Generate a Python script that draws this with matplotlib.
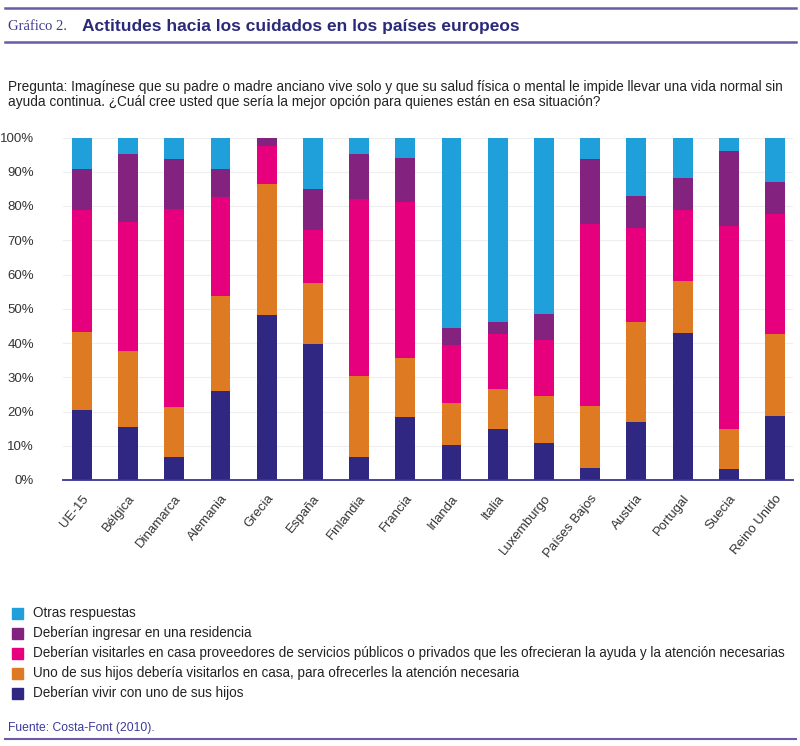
import matplotlib
matplotlib.use('Agg')
import matplotlib.pyplot as plt
import numpy as np
from matplotlib.patches import Rectangle
from matplotlib.lines import Line2D

# paises y valores (porcentaje de cada respuesta, de abajo hacia arriba)
paises = ['UE-15', 'Bélgica', 'Dinamarca', 'Alemania', 'Grecia', 'España', 'Finlandia',
          'Francia', 'Irlanda', 'Italia', 'Luxemburgo', 'Países Bajos', 'Austria',
          'Portugal', 'Suecia', 'Reino Unido']

vivir_hijos = [20.4, 15.6, 6.6, 26.0, 48.3, 39.7, 6.8, 18.4, 10.3, 14.8, 10.7, 3.4, 16.9, 43.0, 3.3, 18.8]
hijo_visita = [22.9, 22.0, 14.8, 27.8, 38.1, 17.7, 23.7, 17.3, 12.1, 11.9, 13.9, 18.2, 29.1, 15.1, 11.6, 23.8]
proveedores = [35.6, 37.8, 57.6, 28.7, 11.1, 15.6, 51.5, 45.5, 17.1, 15.8, 16.3, 53.1, 27.6, 20.7, 59.3, 35.0]
residencia = [12.0, 19.7, 14.7, 8.4, 2.5, 11.9, 13.1, 12.9, 5.0, 3.7, 7.6, 19.0, 9.3, 9.4, 21.9, 9.3]
otras = [9.1, 4.9, 6.3, 9.1, 0.0, 15.1, 4.9, 5.9, 55.5, 53.8, 51.5, 6.3, 17.1, 11.8, 3.9, 13.1]

legend_labels = [
    'Otras respuestas',
    'Deberían ingresar en una residencia',
    'Deberían visitarles en casa proveedores de servicios públicos o privados que les ofrecieran la ayuda y la atención necesarias',
    'Uno de sus hijos debería visitarlos en casa, para ofrecerles la atención necesaria',
    'Deberían vivir con uno de sus hijos',
]

c_vivir = '#302782'
c_visita = '#de7a22'
c_prov = '#e6007e'
c_resid = '#84237f'
c_otras = '#1fa0da'
c_linea = '#6a5aa8'
c_titulo = '#2b2a7a'

sans = ['Liberation Sans', 'DejaVu Sans']

fig = plt.figure(figsize=(8, 7.46), dpi=100)
W, H = 800, 746

ax = fig.add_axes([63 / W, 1 - 480 / H, (793 - 63) / W, (480 - 137.5) / H])

x = np.arange(len(paises))
series = [vivir_hijos, hijo_visita, proveedores, residencia, otras]
colores = [c_vivir, c_visita, c_prov, c_resid, c_otras]
bottom = np.zeros(len(paises))
for vals, col in zip(series, colores):
    ax.bar(x, vals, bottom=bottom, width=0.43, color=col, linewidth=0, zorder=2)
    bottom += np.array(vals)

ax.set_xlim(-0.41, 15.39)
ax.set_ylim(0, 100)
ax.set_yticks(range(0, 101, 10))
ax.set_yticklabels([f'{v}%' for v in range(0, 101, 10)], family=sans, fontsize=9.5, color='#333333')
ax.set_xticks(x)
ax.set_xticklabels(paises, rotation=51, ha='right', rotation_mode='anchor',
                   family=sans, fontsize=9.5, color='#333333')
ax.tick_params(axis='y', length=0, pad=21)
ax.tick_params(axis='x', length=0, pad=9)
ax.grid(axis='y', color='#eeeeee', linewidth=0.8, zorder=0)
for s in ['top', 'right', 'left']:
    ax.spines[s].set_visible(False)
ax.spines['bottom'].set_color('#3b3591')
ax.spines['bottom'].set_linewidth(1.3)
ax.spines['bottom'].set_zorder(3)

# cabecera
for yy in (8, 42):
    fig.add_artist(Line2D([5 / W, 796 / W], [1 - yy / H, 1 - yy / H], color=c_linea, linewidth=1.8))
fig.text(8 / W, 1 - 26 / H, 'Gráfico 2.', family=['Liberation Serif', 'DejaVu Serif'],
         fontsize=10.5, color='#3d3a8c', va='center')
fig.text(82 / W, 1 - 26 / H, 'Actitudes hacia los cuidados en los países europeos', family=sans,
         fontsize=12.5, fontweight='bold', color=c_titulo, va='center')

fig.text(8 / W, 1 - 87 / H, 'Pregunta: Imagínese que su padre o madre anciano vive solo y que su salud física o mental le impide llevar una vida normal sin',
         family=sans, fontsize=9.8, color='#222222', va='center')
fig.text(8 / W, 1 - 102 / H, 'ayuda continua. ¿Cuál cree usted que sería la mejor opción para quienes están en esa situación?',
         family=sans, fontsize=9.8, color='#222222', va='center')

# leyenda
leg_colores = [c_otras, c_resid, c_prov, c_visita, c_vivir]
for i, (lab, col) in enumerate(zip(legend_labels, leg_colores)):
    yc = 613 + i * 20
    fig.add_artist(Rectangle((12 / W, 1 - (yc + 5.5) / H), 11 / W, 11 / H, color=col,
                             transform=fig.transFigure))
    fig.text(33 / W, 1 - yc / H, lab, family=sans, fontsize=9.75, color='#222222', va='center')

fig.text(8 / W, 1 - 728 / H, 'Fuente: Costa-Font (2010).', family=sans, fontsize=8.7,
         color='#3c3a9a', va='center')
fig.add_artist(Line2D([5 / W, 796 / W], [1 - 739 / H, 1 - 739 / H], color=c_linea, linewidth=1.5))

fig.savefig('out.png', dpi=100)
